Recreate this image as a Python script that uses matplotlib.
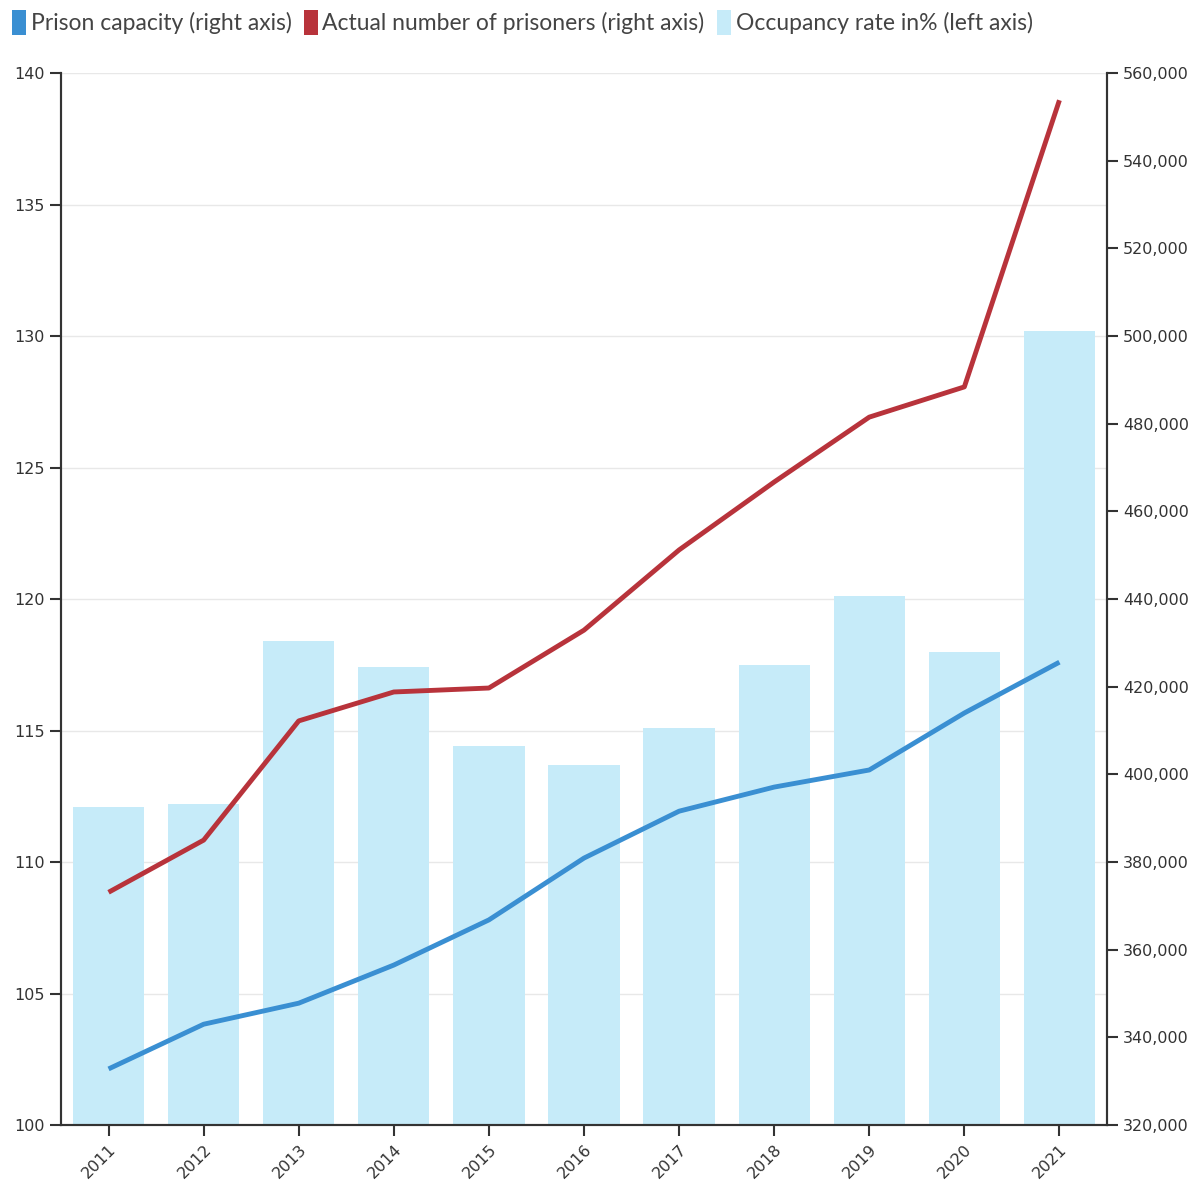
import numpy as np
import matplotlib.pyplot as plt
from matplotlib.patches import Patch
from matplotlib.ticker import FuncFormatter

# == Data == #
years = ['2011', '2012', '2013', '2014', '2015', '2016',
         '2017', '2018', '2019', '2020', '2021']
occupancy = [112.1, 112.2, 118.4, 117.4, 114.4, 113.7,
             115.1, 117.5, 120.1, 118.0, 130.2]
capacity = [332800, 343000, 347800, 356500, 366800, 380900,
            391600, 397100, 401000, 414000, 425600]
prisoners = [373100, 385000, 412200, 418800, 419700, 432900,
             451200, 466700, 481500, 488400, 553800]

bar_col = '#c6ebf9'
blue = '#3a8fd2'
red = '#b8333b'

fig = plt.figure(figsize=(12.01, 11.84), dpi=100)
ax = fig.add_axes([0.0508, 0.0498, 0.8709, 0.8885])
ax2 = ax.twinx()

x = np.arange(len(years))

# bars on left axis
ax.bar(x, occupancy, width=0.75, color=bar_col, zorder=2)
ax.set_ylim(100, 140)
ax.set_yticks(np.arange(100, 141, 5))
ax.set_xlim(-0.5, 10.5)
ax.set_xticks(x)
ax.set_xticklabels(years, rotation=45, ha='right', rotation_mode='anchor')
for y in range(105, 141, 5):
    ax.axhline(y, color='#e8e8e8', lw=1, zorder=1)

# lines on right axis
ax2.plot(x, capacity, color=blue, lw=3.5, solid_capstyle='butt')
ax2.plot(x, prisoners, color=red, lw=3.5, solid_capstyle='butt')
ax2.set_ylim(320000, 560000)
ax2.set_yticks(np.arange(320000, 560001, 20000))
ax2.yaxis.set_major_formatter(FuncFormatter(lambda v, p: '{:,.0f}'.format(v)))

for a in (ax, ax2):
    a.spines['top'].set_visible(False)
    for s in ('left', 'right', 'bottom'):
        a.spines[s].set_color('#333333')
        a.spines[s].set_linewidth(1.5)
    a.tick_params(axis='both', length=8, width=1.5, color='#333333',
                  labelsize=11.5, labelcolor='#333333')
ax.tick_params(axis='x', pad=4)

# legend
handles = [Patch(facecolor=blue), Patch(facecolor=red), Patch(facecolor=bar_col)]
labels = ['Prison capacity (right axis)', 'Actual number of prisoners (right axis)',
          'Occupancy rate in% (left axis)']
fig.legend(handles, labels, loc='upper left', bbox_to_anchor=(-0.005, 1.007),
           ncol=3, frameon=False, handlelength=0.6, handleheight=1.3,
           handletextpad=0.2, columnspacing=0.55,
           prop={'family': 'Lato', 'size': 16.5},
           labelcolor='#444444', borderaxespad=0.4)

fig.savefig('out.png', dpi=100)
